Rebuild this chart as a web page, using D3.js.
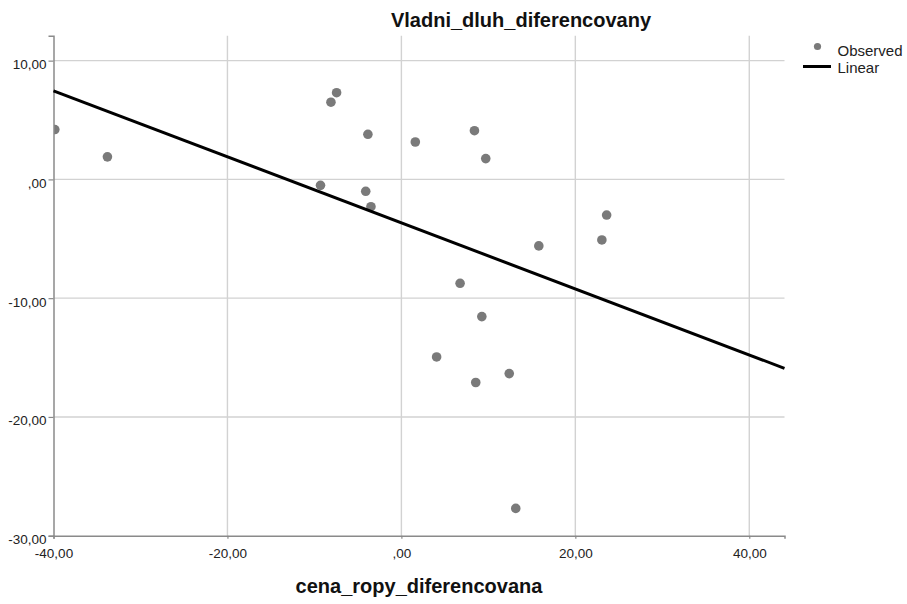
<!DOCTYPE html>
<html>
<head>
<meta charset="utf-8">
<script src="https://cdn.jsdelivr.net/npm/d3@7"></script>
<style>
  html, body { margin: 0; padding: 0; background: #fff; }
  svg { display: block; font-family: Arial, "Liberation Sans", sans-serif; }
</style>
</head>
<body>
<div id="chart"></div>
<script>
// Observed values: cena_ropy_diferencovana (x) vs Vladni_dluh_diferencovany (y)
const cenaRopy = [-39.85, -33.8, -8.1, -7.45, -3.85, 1.6, 8.4, 9.7, -9.3, -4.1,
                  -3.5, 23.6, 23.05, 15.8, 6.75, 9.25, 4.05, 8.55, 12.4, 13.15];
const vladniDluh = [4.2, 1.9, 6.5, 7.3, 3.8, 3.15, 4.1, 1.75, -0.5, -1.0,
                    -2.3, -3.0, -5.1, -5.6, -8.75, -11.55, -14.95, -17.1, -16.35, -27.7];

// Linear fit: y = intercept + slope * x
const fitIntercept = -3.66;
const fitSlope = -0.278;

const xTicks = [-40, -20, 0, 20, 40];
const yTicks = [-30, -20, -10, 0, 10];
const xDomain = [-40, 44.05];
const yDomain = [-30, 12.1];

const titleText = "Vladni_dluh_diferencovany";
const xLabelText = "cena_ropy_diferencovana";
const legendItems = ["Observed", "Linear"];

const W = 907, H = 604;
const plot = { left: 53.5, right: 784.5, top: 35.7, bottom: 535.7 };

// SPSS-style number format: comma decimal separator, no leading zero for 0
const fmt = d => {
  let s = Math.abs(d).toFixed(2).replace(".", ",");
  if (Math.abs(d) < 1) s = s.replace(/^0/, "");
  return (d < 0 ? "-" : "") + s;
};

const svg = d3.select("#chart").append("svg")
  .attr("width", W).attr("height", H);
svg.append("rect").attr("width", W).attr("height", H).attr("fill", "#fff");

const x = d3.scaleLinear().domain(xDomain).range([plot.left, plot.right]);
const y = d3.scaleLinear().domain(yDomain).range([plot.bottom, plot.top]);

// grid lines
const grid = svg.append("g").attr("stroke", "#d2d2d2").attr("stroke-width", 1.4);
grid.selectAll("line.vx").data(xTicks.filter(t => t !== xDomain[0])).join("line")
  .attr("x1", d => x(d)).attr("x2", d => x(d))
  .attr("y1", plot.top).attr("y2", plot.bottom);
grid.selectAll("line.hy").data(yTicks.filter(t => t !== yDomain[0])).join("line")
  .attr("x1", plot.left).attr("x2", plot.right)
  .attr("y1", d => y(d)).attr("y2", d => y(d));

// axes
const xAxis = d3.axisBottom(x).tickValues(xTicks).tickFormat(fmt).tickSize(3).tickPadding(9);
const yAxis = d3.axisLeft(y).tickValues(yTicks).tickFormat(fmt).tickSize(5).tickPadding(2);

const gx = svg.append("g").attr("transform", `translate(0,${plot.bottom})`).call(xAxis);
const gy = svg.append("g").attr("transform", `translate(${plot.left},0)`).call(yAxis);
[gx, gy].forEach(g => {
  g.select(".domain").attr("stroke", "#8a8a8a").attr("stroke-width", 1.5);
  g.selectAll(".tick line").attr("stroke", "#8a8a8a").attr("stroke-width", 1.2);
  g.selectAll(".tick text").attr("fill", "#222").attr("font-size", 13.5)
    .attr("font-family", "Arial, 'Liberation Sans', sans-serif");
});
gy.selectAll(".tick text").attr("dy", "0.58em");
gx.selectAll(".tick text").attr("dy", "0.75em");

// clip to plot area
svg.append("clipPath").attr("id", "plotclip").append("rect")
  .attr("x", plot.left + 0.75).attr("y", plot.top)
  .attr("width", plot.right - plot.left).attr("height", plot.bottom - plot.top - 0.75);

const data = cenaRopy.map((v, i) => ({ x: v, y: vladniDluh[i] }));

svg.append("g").attr("clip-path", "url(#plotclip)")
  .selectAll("circle").data(data).join("circle")
  .attr("cx", d => x(d.x)).attr("cy", d => y(d.y))
  .attr("r", 4.8).attr("fill", "#7a7a7a");

// fitted line
svg.append("line")
  .attr("x1", x(xDomain[0])).attr("y1", y(fitIntercept + fitSlope * xDomain[0]))
  .attr("x2", x(xDomain[1])).attr("y2", y(fitIntercept + fitSlope * xDomain[1]))
  .attr("stroke", "#000").attr("stroke-width", 3);

// title and axis label
svg.append("text").attr("x", 521).attr("y", 27).attr("text-anchor", "middle")
  .attr("font-size", 20).attr("font-weight", "bold").attr("fill", "#111")
  .text(titleText);
svg.append("text").attr("x", (plot.left + plot.right) / 2).attr("y", 593)
  .attr("text-anchor", "middle")
  .attr("font-size", 20).attr("font-weight", "bold").attr("fill", "#111")
  .text(xLabelText);

// legend
const lg = svg.append("g");
lg.append("circle").attr("cx", 817.5).attr("cy", 46.5).attr("r", 3.6).attr("fill", "#7a7a7a");
lg.append("line").attr("x1", 803).attr("x2", 831).attr("y1", 66.5).attr("y2", 66.5)
  .attr("stroke", "#000").attr("stroke-width", 3);
lg.selectAll("text").data(legendItems).join("text")
  .attr("x", 837.5).attr("y", (d, i) => 55.5 + i * 17)
  .attr("font-size", 15).attr("fill", "#222")
  .text(d => d);
</script>
</body>
</html>
